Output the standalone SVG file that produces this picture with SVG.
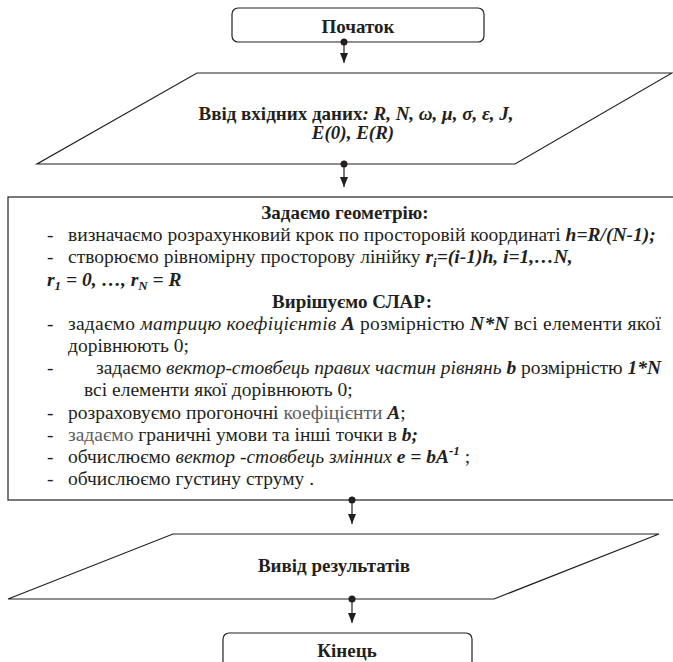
<svg xmlns="http://www.w3.org/2000/svg" width="673" height="662" viewBox="0 0 673 662">
<style>
.t{font-family:"Liberation Serif","Times New Roman",serif;font-size:19.5px;fill:#231f20}
.h{font-family:"Liberation Serif","Times New Roman",serif;font-size:19px;font-weight:bold;fill:#231f20;text-anchor:middle}
.b{font-weight:bold}
.i{font-style:italic}
.g{fill:#5e5e5e}
.shape{fill:#fff;stroke:#231f20;stroke-width:1.2}
.conn{stroke:#231f20;stroke-width:1.2;fill:none}
.dot{fill:#231f20}
</style>
<defs>
<marker id="ah" markerWidth="8" markerHeight="10" refX="4" refY="10" orient="0" markerUnits="userSpaceOnUse">
<path d="M0,0 L8,0 L4,10 z" fill="#231f20"/>
</marker>
</defs>
<rect width="673" height="662" fill="#fff"/>

<g id="start">
<rect class="shape" x="232" y="8" width="252" height="34" rx="6"/>
<text class="h" x="358" y="33">Початок</text>
</g>

<g id="input">
<polygon class="shape" points="197,73 672,73 515,164 37,164"/>
<text class="h" x="356" y="120">Ввід вхідних даних<tspan class="i">: R, N, ω, μ, σ, ε, J,</tspan></text>
<text class="h i" x="353" y="139">E(0), E(R)</text>
</g>

<g id="process">
<rect class="shape" x="8" y="197" width="680" height="303"/>
<text class="h" x="345" y="219">Задаємо геометрію:</text>
<text class="t" x="47" y="241.2">-</text>
<text class="t" x="68" y="241.2">визначаємо розрахунковий крок по просторовій координаті <tspan class="b i">h=R/(N-1);</tspan></text>
<text class="t" x="47" y="263.3">-</text>
<text class="t" x="68" y="263.3">створюємо рівномірну просторову лінійку <tspan class="b i">r<tspan dy="4" font-size="13">i</tspan><tspan dy="-4">=(i-1)h, i=1,…N,</tspan></tspan></text>
<text class="t b i" x="47" y="285.5">r<tspan dy="4" font-size="13">1</tspan><tspan dy="-4"> = 0, …, r</tspan><tspan dy="4" font-size="13">N</tspan><tspan dy="-4"> = R</tspan></text>
<text class="h" x="352" y="307.7">Вирішуємо СЛАР:</text>
<text class="t" x="47" y="329.8">-</text>
<text class="t" x="68" y="329.8" textLength="593" lengthAdjust="spacing">задаємо <tspan class="i">матрицю коефіцієнтів </tspan><tspan class="b i">A</tspan> розмірністю <tspan class="b i">N*N</tspan> всі елементи якої</text>
<text class="t" x="68" y="352">дорівнюють 0;</text>
<text class="t" x="47" y="374.2">-</text>
<text class="t" x="96" y="374.2" textLength="565" lengthAdjust="spacing">задаємо <tspan class="i">вектор-стовбець правих частин рівнянь </tspan><tspan class="b i">b</tspan> розмірністю <tspan class="b i">1*N</tspan></text>
<text class="t" x="84" y="396.3">всі елементи якої дорівнюють 0;</text>
<text class="t" x="47" y="418.5">-</text>
<text class="t" x="68" y="418.5">розраховуємо прогоночні <tspan class="g">коефіцієнти</tspan> <tspan class="b i">A</tspan>;</text>
<text class="t" x="47" y="440.7">-</text>
<text class="t" x="68" y="440.7"><tspan class="g">задаємо</tspan> граничні умови та інші точки в <tspan class="b i">b;</tspan></text>
<text class="t" x="47" y="462.8">-</text>
<text class="t" x="68" y="462.8">обчислюємо <tspan class="i">вектор -стовбець змінних </tspan><tspan class="b i">e = bA<tspan dy="-8" font-size="13">-1</tspan></tspan><tspan dy="8"> ;</tspan></text>
<text class="t" x="47" y="485">-</text>
<text class="t" x="68" y="485">обчислюємо густину струму .</text>
</g>

<g id="output">
<polygon class="shape" points="173,534 659,534 494,599 8,599"/>
<text class="h" x="334" y="572">Вивід результатів</text>
</g>

<g id="end">
<rect class="shape" x="223" y="633" width="249" height="60" rx="6"/>
<text class="h" x="347" y="657">Кінець</text>
</g>

<g id="connectors">
<line class="conn" x1="344" y1="42" x2="344" y2="63" marker-end="url(#ah)"/>
<circle class="dot" cx="344" cy="42" r="3.5"/>
<line class="conn" x1="344" y1="164" x2="344" y2="187" marker-end="url(#ah)"/>
<circle class="dot" cx="344" cy="164" r="3.5"/>
<line class="conn" x1="352" y1="500" x2="352" y2="524" marker-end="url(#ah)"/>
<circle class="dot" cx="352" cy="500" r="3.5"/>
<line class="conn" x1="352" y1="599" x2="352" y2="623" marker-end="url(#ah)"/>
<circle class="dot" cx="352" cy="599" r="3.5"/>
</g>
</svg>
